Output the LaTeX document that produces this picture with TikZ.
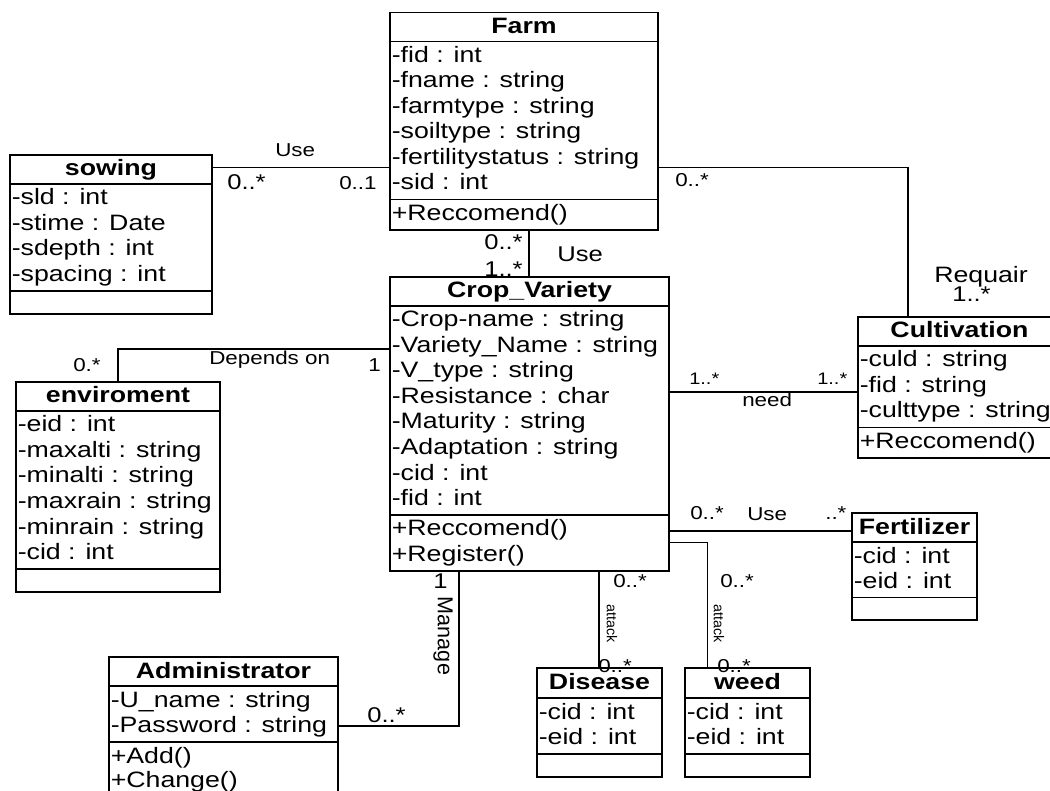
\documentclass[tikz,border=0pt]{standalone}
\usepackage{fontspec}
\setmainfont{Liberation Sans}[FakeStretch=1.2]
\newfontfamily\rotfont{Liberation Sans}
\usetikzlibrary{fit}

\begin{document}
\begin{tikzpicture}[x=0.75pt,y=0.75pt,yscale=-1,xscale=1,
    box/.style={draw, line width=1.1pt, inner sep=0pt},
    sepline/.style={line width=1.1pt},
    link/.style={line width=0.8pt},
    cname/.style={anchor=base, inner sep=0pt, font=\bfseries\fontsize{16.7}{20}\selectfont},
    attr/.style={anchor=base west, inner sep=0pt, font=\fontsize{16.7}{20}\selectfont},
    lbl/.style={anchor=base west, inner sep=0pt, font=\fontsize{14}{16}\selectfont},
    biglbl/.style={lbl, font=\fontsize{16}{18}\selectfont},
    smalllbl/.style={lbl, font=\fontsize{12.5}{14}\selectfont},
    vlbl/.style={inner sep=0pt, rotate=-90}]
        \useasboundingbox (0,0) rectangle (1050,791);
        \clip (0,0) rectangle (1050,791);

        %Shape: Class [Farm]
        \node [box, fit={(390,12.5) (658,230)}] (farm) {};
        \draw [sepline] (farm.west |- 0,41.5) -- (farm.east |- 0,41.5);
        \draw [sepline] (farm.west |- 0,199.5) -- (farm.east |- 0,199.5);
        % Text Node
        \node [cname] (farmT) at (524,33.5) {Farm};
        \node [attr] (farmA1) at (391.5,62.5) {-fid : int};
        \node [attr] (farmA2) at (391.5,88) {-fname : string};
        \node [attr] (farmA3) at (391.5,113.5) {-farmtype : string};
        \node [attr] (farmA4) at (391.5,139) {-soiltype : string};
        \node [attr] (farmA5) at (391.5,164.5) {-fertilitystatus : string};
        \node [attr] (farmA6) at (391.5,190) {-sid : int};
        \node [attr] (farmM1) at (391.5,220.5) {+Reccomend()};

        %Shape: Class [sowing]
        \node [box, fit={(10,155) (212,314)}] (sowing) {};
        \draw [sepline] (sowing.west |- 0,184) -- (sowing.east |- 0,184);
        \draw [sepline] (sowing.west |- 0,291) -- (sowing.east |- 0,291);
        % Text Node
        \node [cname] (sowingT) at (111,176) {sowing};
        \node [attr] (sowingA1) at (11.5,205) {-sld : int};
        \node [attr] (sowingA2) at (11.5,230.5) {-stime : Date};
        \node [attr] (sowingA3) at (11.5,256) {-sdepth : int};
        \node [attr] (sowingA4) at (11.5,281.5) {-spacing : int};

        %Shape: Class [Crop_Variety]
        \node [box, fit={(390,277) (669,571)}] (crop) {};
        \draw [sepline] (crop.west |- 0,306) -- (crop.east |- 0,306);
        \draw [sepline] (crop.west |- 0,515) -- (crop.east |- 0,515);
        % Text Node
        \node [cname] (cropT) at (529.5,298) {Crop\_Variety};
        \node [attr] (cropA1) at (391.5,327) {-Crop-name : string};
        \node [attr] (cropA2) at (391.5,352.5) {-Variety\_Name : string};
        \node [attr] (cropA3) at (391.5,378) {-V\_type : string};
        \node [attr] (cropA4) at (391.5,403.5) {-Resistance : char};
        \node [attr] (cropA5) at (391.5,429) {-Maturity : string};
        \node [attr] (cropA6) at (391.5,454.5) {-Adaptation : string};
        \node [attr] (cropA7) at (391.5,480) {-cid : int};
        \node [attr] (cropA8) at (391.5,505.5) {-fid : int};
        \node [attr] (cropM1) at (391.5,536) {+Reccomend()};
        \node [attr] (cropM2) at (391.5,561.5) {+Register()};

        %Shape: Class [enviroment]
        \node [box, fit={(16,382) (220,592)}] (env) {};
        \draw [sepline] (env.west |- 0,411) -- (env.east |- 0,411);
        \draw [sepline] (env.west |- 0,569) -- (env.east |- 0,569);
        % Text Node
        \node [cname] (envT) at (118,403) {enviroment};
        \node [attr] (envA1) at (17.5,432) {-eid : int};
        \node [attr] (envA2) at (17.5,457.5) {-maxalti : string};
        \node [attr] (envA3) at (17.5,483) {-minalti : string};
        \node [attr] (envA4) at (17.5,508.5) {-maxrain : string};
        \node [attr] (envA5) at (17.5,534) {-minrain : string};
        \node [attr] (envA6) at (17.5,559.5) {-cid : int};

        %Shape: Class [Cultivation]
        \node [box, fit={(858,317) (1061,458)}] (cult) {};
        \draw [sepline] (cult.west |- 0,346) -- (cult.east |- 0,346);
        \draw [sepline] (cult.west |- 0,427.5) -- (cult.east |- 0,427.5);
        % Text Node
        \node [cname] (cultT) at (959.5,338) {Cultivation};
        \node [attr] (cultA1) at (859.5,367) {-culd : string};
        \node [attr] (cultA2) at (859.5,392.5) {-fid : string};
        \node [attr] (cultA3) at (859.5,418) {-culttype : string};
        \node [attr] (cultM1) at (859.5,448.5) {+Reccomend()};

        %Shape: Class [Fertilizer]
        \node [box, fit={(852,513) (977,620)}] (fert) {};
        \draw [sepline] (fert.west |- 0,542) -- (fert.east |- 0,542);
        \draw [sepline] (fert.west |- 0,597.5) -- (fert.east |- 0,597.5);
        % Text Node
        \node [cname] (fertT) at (914.5,534) {Fertilizer};
        \node [attr] (fertA1) at (853.5,563) {-cid : int};
        \node [attr] (fertA2) at (853.5,588.5) {-eid : int};

        %Shape: Class [Disease]
        \node [box, fit={(537,668) (662,777)}] (disease) {};
        \draw [sepline] (disease.west |- 0,698) -- (disease.east |- 0,698);
        \draw [sepline] (disease.west |- 0,754) -- (disease.east |- 0,754);
        % Text Node
        \node [cname] (diseaseT) at (599.5,689) {Disease};
        \node [attr] (diseaseA1) at (538.5,719) {-cid : int};
        \node [attr] (diseaseA2) at (538.5,744.5) {-eid : int};

        %Shape: Class [weed]
        \node [box, fit={(685,668) (810,777)}] (weed) {};
        \draw [sepline] (weed.west |- 0,698) -- (weed.east |- 0,698);
        \draw [sepline] (weed.west |- 0,754) -- (weed.east |- 0,754);
        % Text Node
        \node [cname] (weedT) at (747.5,689) {weed};
        \node [attr] (weedA1) at (686.5,719) {-cid : int};
        \node [attr] (weedA2) at (686.5,744.5) {-eid : int};

        %Shape: Class [Administrator]
        \node [box, fit={(109,657) (338,800)}] (admin) {};
        \draw [sepline] (admin.west |- 0,686) -- (admin.east |- 0,686);
        \draw [sepline] (admin.west |- 0,742) -- (admin.east |- 0,742);
        % Text Node
        \node [cname] (adminT) at (223.5,678) {Administrator};
        \node [attr] (adminA1) at (110.5,707) {-U\_name : string};
        \node [attr] (adminA2) at (110.5,732.5) {-Password : string};
        \node [attr] (adminM1) at (110.5,763) {+Add()};
        \node [attr] (adminM2) at (110.5,787) {+Change()};

        %Straight Lines [sowing - Farm]
        \draw [link] (sowing.east |- 0,167.5) -- (farm.west |- 0,167.5);
        \node [lbl] (useSF) at (275,157) {Use};
        \node [biglbl] (mulSF1) at (227,190) {0..*};
        \node [lbl] (mulSF2) at (339,190) {0..1};

        %Shape: Polyline [Farm - Cultivation]
        \draw [link] (farm.east |- 0,167.5) -| (cult.north -| 908,0);
        \node [lbl] (mulFC1) at (675,187) {0..*};
        \node [attr] (reqFC) at (934,283) {Requair};
        \node [biglbl] (mulFC2) at (952,302) {1..*};

        %Straight Lines [Farm - Crop_Variety]
        \draw [link] (farm.south -| 529,0) -- (crop.north -| 529,0);
        \node [biglbl] (mulFV1) at (484,250) {0..*};
        \node [biglbl] (mulFV2) at (484,277) {1..*};
        \node [biglbl] (useFV) at (557,262) {Use};

        %Shape: Polyline [Crop_Variety - enviroment]
        \draw [link] (crop.west |- 0,349) -| (env.north -| 118,0);
        \node [lbl] (mulVE1) at (73,372) {0.*};
        \node [lbl] (depVE) at (209,365) {Depends on};
        \node [lbl] (mulVE2) at (368,372) {1};

        %Straight Lines [Crop_Variety - Cultivation]
        \draw [link] (crop.east |- 0,392) -- (cult.west |- 0,392);
        \node [smalllbl] (mulVC1) at (689,385) {1..*};
        \node [smalllbl] (mulVC2) at (817,385) {1..*};
        \node [lbl] (needVC) at (742,407) {need};

        %Straight Lines [Crop_Variety - Fertilizer]
        \draw [link] (crop.east |- 0,531) -- (fert.west |- 0,531);
        \node [lbl] (mulVF1) at (690,519) {0..*};
        \node [lbl] (useVF) at (747,520) {Use};
        \node [lbl] (mulVF2) at (825,519) {..*};

        %Straight Lines [Crop_Variety - Disease]
        \draw [link] (crop.south -| 599,0) -- (disease.north -| 599,0);
        \node [lbl] (mulVD1) at (613,587) {0..*};
        \node [vlbl, font=\rotfont\fontsize{10.7}{12}\selectfont] (attVD) at (612,624) {attack};
        \node [lbl] (mulVD2) at (598,672) {0..*};

        %Shape: Polyline [Crop_Variety - weed]
        \draw [link] (crop.east |- 0,542.5) -| (weed.north -| 707.5,0);
        \node [lbl] (mulVW1) at (720,587) {0..*};
        \node [vlbl, font=\rotfont\fontsize{10.7}{12}\selectfont] (attVW) at (719,624) {attack};
        \node [lbl] (mulVW2) at (717,672) {0..*};

        %Shape: Polyline [Crop_Variety - Administrator]
        \draw [link] (crop.south -| 459,0) |- (admin.east |- 0,726);
        \node [biglbl] (mulVA1) at (433,588) {1};
        \node [vlbl, font=\rotfont\fontsize{16.2}{18}\selectfont] (manVA) at (443,636) {Manage};
        \node [biglbl] (mulVA2) at (367,722) {0..*};

    \end{tikzpicture}
\end{document}
